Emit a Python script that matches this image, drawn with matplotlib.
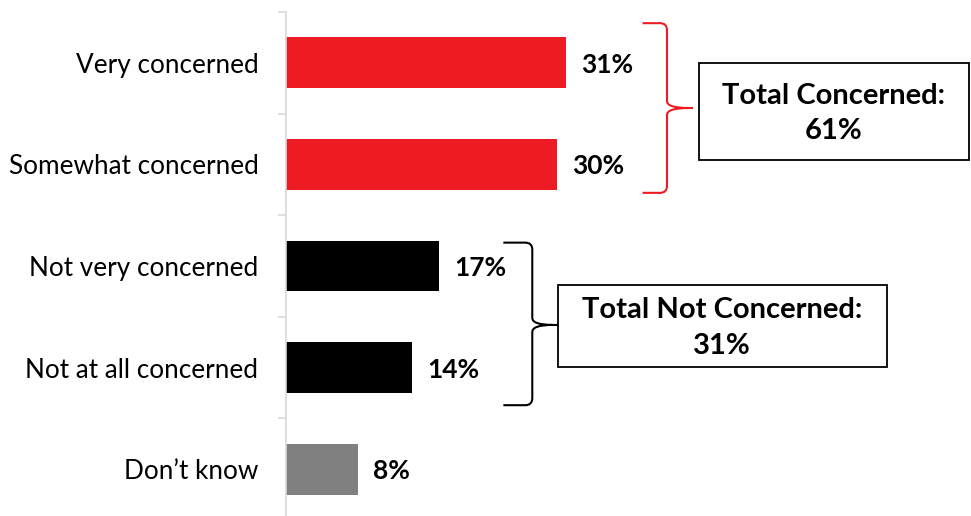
import numpy as np
import matplotlib.pyplot as plt
from matplotlib.path import Path
from matplotlib.patches import PathPatch, Rectangle
from matplotlib.transforms import IdentityTransform

plt.rcParams['font.family'] = ['Lato', 'DejaVu Sans']

# --- data ---
categories = ['Very concerned', 'Somewhat concerned', 'Not very concerned',
              'Not at all concerned', 'Don\u2019t know']
values = [31, 30, 17, 14, 8]
bar_colors = ['#ED1C24', '#ED1C24', '#000000', '#000000', '#808080']

group_labels = ['Total Concerned:', 'Total Not Concerned:']
group_totals = [61, 31]
group_members = [[0, 1], [2, 3]]
group_colors = ['#ED1C24', '#000000']


def draw_brace(ax, x_arm, x_spine, x_tip, y_top, y_bot, y_mid, color):
    """Curly brace built in display pixels from data anchors."""
    to_px = ax.transData.transform
    xa, yt = to_px((x_arm, y_top))
    xs, yb = to_px((x_spine, y_bot))
    xt, ym = to_px((x_tip, y_mid))
    r = 7
    verts = [(xa, yt), (xs - r, yt), (xs, yt), (xs, yt - r),
             (xs, ym + r), (xs, ym), (xt - 4, ym),
             (xs, ym), (xs, ym - r),
             (xs, yb + r), (xs, yb), (xs - r, yb), (xa, yb)]
    codes = [Path.MOVETO, Path.LINETO, Path.CURVE3, Path.CURVE3,
             Path.LINETO, Path.CURVE3, Path.CURVE3,
             Path.CURVE3, Path.CURVE3,
             Path.LINETO, Path.CURVE3, Path.CURVE3, Path.LINETO]
    patch = PathPatch(Path(verts, codes), transform=IdentityTransform(),
                      facecolor='none', edgecolor=color, lw=1.5, clip_on=False)
    ax.add_artist(patch)
    ax.plot([xt - 4, xt], [ym, ym], transform=IdentityTransform(),
            color=color, lw=1.5, clip_on=False)


W, H = 971, 516
fig = plt.figure(figsize=(W / 100, H / 100), dpi=100)
ax_left = 285.5 / W
ax = fig.add_axes([ax_left, (H - 520) / H, 1 - ax_left, 508 / H])

y = np.arange(len(categories))
ax.barh(y, values, height=0.5, color=bar_colors)
ax.set_xlim(0, (W - 285.5) / 9.04)
ax.set_ylim(4.5, -0.5)

for yi, v in zip(y, values):
    ax.annotate(f'{v}%', (v, yi), xytext=(11, -1.5), textcoords='offset points',
                va='center', ha='left', fontsize=19, fontweight='bold')

ax.set_yticks(y)
ax.set_yticklabels(categories, fontsize=18.8)
ax.set_yticks(np.arange(-0.5, len(categories)), minor=True)
ax.tick_params(axis='y', which='major', length=0, pad=19.5)
ax.tick_params(axis='y', which='minor', length=6, color='#D9D9D9', width=1.2)
ax.set_xticks([])
for s in ['top', 'right', 'bottom']:
    ax.spines[s].set_visible(False)
ax.spines['left'].set_color('#D9D9D9')
ax.spines['left'].set_linewidth(1.2)

# group brackets and total boxes
brace_x = [(39.5, 42.2, 45.0), (24.1, 27.3, 30.0)]
brace_y = [(-0.39, 1.28, 0.445), (1.77, 3.37, 2.58)]
box_x = [(45.7, 75.6), (30.1, 66.5)]
box_y = [(0.0, 0.957), (2.19, 2.99)]

for i, lab in enumerate(group_labels):
    xa, xs, xt = brace_x[i]
    yt, yb, ym = brace_y[i]
    draw_brace(ax, xa, xs, xt, yt, yb, ym, group_colors[i])
    x0, x1 = box_x[i]
    y0, y1 = box_y[i]
    ax.add_patch(Rectangle((x0, y0), x1 - x0, y1 - y0, facecolor='white',
                           edgecolor='black', lw=1.3, clip_on=False))
    ax.text((x0 + x1) / 2, (y0 + y1) / 2 + 0.02, f'{lab}\n{group_totals[i]}%',
            ha='center', va='center', fontsize=21, fontweight='bold',
            linespacing=1.45)

fig.savefig('out.png', dpi=100)
